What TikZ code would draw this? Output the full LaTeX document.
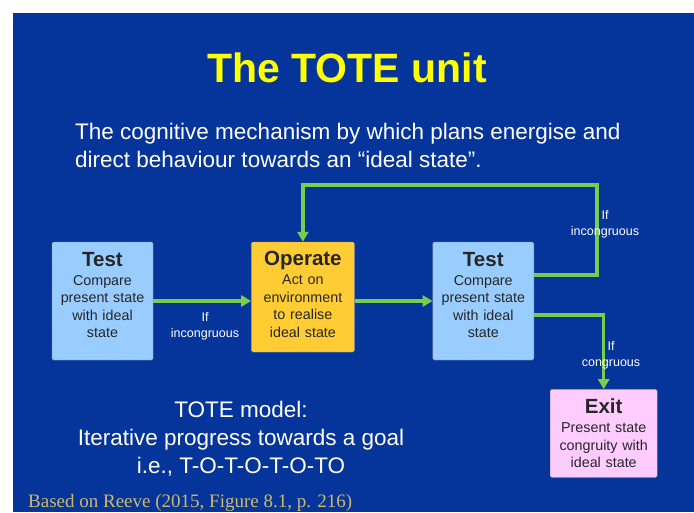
\documentclass[tikz,border=0pt]{standalone}
\usepackage{fontspec}
\setmainfont{Liberation Sans}
\newfontfamily\citefont{Liberation Serif}
\usetikzlibrary{arrows.meta,positioning}
\definecolor{SlideBg}{HTML}{05349A}
\definecolor{TitleYellow}{HTML}{FFFF00}
\definecolor{LinkGreen}{HTML}{78CC4E}
\definecolor{TestBlue}{HTML}{99CCFF}
\definecolor{OperateGold}{HTML}{FFCC33}
\definecolor{ExitPink}{HTML}{FFCCFF}
\definecolor{CiteGold}{HTML}{CDB96A}
\newcommand{\stagehead}[1]{{\fontsize{20.5}{22}\selectfont\bfseries #1}\\[1.5pt]}

\begin{document}
\begin{tikzpicture}[x=1pt, y=-1pt,
  stage/.style={rounded corners=1.5pt, draw=black!40, line width=0.4pt,
                text width=98pt, align=center, inner sep=0pt,
                font=\fontsize{14.3}{17.5}\selectfont, text=black!85},
  cond/.style={text=white, align=center, inner sep=0pt,
               font=\fontsize{12.5}{16}\selectfont},
  prose/.style={text=white, inner sep=0pt, font=\fontsize{22.5}{28}\selectfont},
  arr/.style={-{Triangle[length=10pt,width=11pt]}, line width=3.2pt, draw=LinkGreen}]
  \useasboundingbox (0,0) rectangle (694,512);
  \fill[white] (0,0) rectangle (694,512);
  \fill[SlideBg] (13,13) rectangle (694,512);

  % headings
  \node[text=TitleYellow, inner sep=0pt, font=\fontsize{41}{48}\selectfont\bfseries]
    (title) at (347,68) {The TOTE unit};
  \node[prose, anchor=north west, align=left] (intro) at (75,123)
    {The cognitive mechanism by which plans energise and\\
     direct behaviour towards an ``ideal state''.};

  % the four stages
  \node[stage, fill=TestBlue, minimum width=101pt, minimum height=118pt] (test1)
    at (102.5,301) {\stagehead{Test}Compare\\present state\\with ideal\\state\\[-5pt]~};
  \node[stage, fill=OperateGold, minimum width=103pt, minimum height=110pt,
        right=98pt of test1.north east, anchor=north west] (operate)
    {\stagehead{Operate}Act on\\environment\\to realise\\ideal state\\[-12pt]~};
  \node[stage, fill=TestBlue, minimum width=101pt, minimum height=118pt,
        right=78pt of operate.north east, anchor=north west] (test2)
    {\stagehead{Test}Compare\\present state\\with ideal\\state\\[-5pt]~};
  \node[stage, fill=ExitPink, minimum width=107pt, minimum height=88pt,
        below right=29pt and 16pt of test2.south east, anchor=north west] (exit)
    {\stagehead{Exit}Present state\\congruity with\\ideal state};

  % links
  \coordinate (looptop) at (597,185);
  \draw[arr] (test1) -- (operate.west |- test1);
  \draw[arr] (operate.east |- test1) -- (test2);
  \draw[arr] ([yshift=26pt]test2.east) -| (looptop) -| (operate.north);
  \draw[arr] ([yshift=-14pt]test2.east) -| (exit.north);

  \node[cond] (c1) at (205,326) {If\\incongruous};
  \node[cond] (c2) at (605,224) {If\\incongruous};
  \node[cond] (c3) at (611,355) {If\\congruous};

  % summary and source
  \node[prose, anchor=north, align=center] (summary) at (241,400.5)
    {TOTE model:\\Iterative progress towards a goal\\i.e., T-O-T-O-T-O-TO};
  \node[text=CiteGold, inner sep=0pt, anchor=base west, font=\citefont\fontsize{19}{22}\selectfont]
    (source) at (28,507) {Based on Reeve (2015, Figure 8.1, p. 216)};
\end{tikzpicture}
\end{document}
